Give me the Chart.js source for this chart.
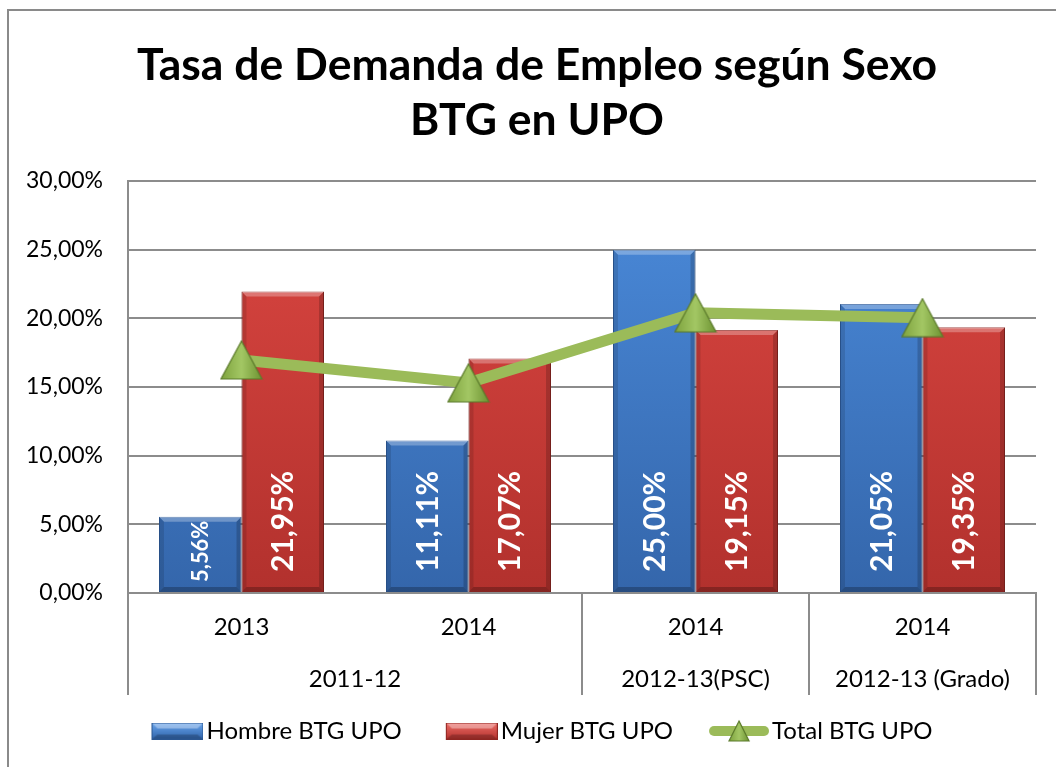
<!DOCTYPE html>
<html lang="es">
<head>
<meta charset="UTF-8" />
<title>Tasa de Demanda de Empleo según Sexo</title>
<style>
  html, body { margin: 0; padding: 0; background: #fff; overflow: hidden; }
</style>
</head>
<body>
<canvas id="chart" width="1056" height="767"></canvas>
<script src="https://cdn.jsdelivr.net/npm/chart.js@4.4.1/dist/chart.umd.min.js"></script>
<script>
  // Data (values in %)
  const years = ["2013", "2014", "2014", "2014"];
  const groupLabels = ["2011-12", "2012-13(PSC)", "2012-13 (Grado)"];
  const groupSizes = [2, 1, 1];
  const hombre = [5.56, 11.11, 25.0, 21.05];
  const mujer = [21.95, 17.07, 19.15, 19.35];
  const total = [16.97, 15.3, 20.4, 20.05];
  const titleLines = ["Tasa de Demanda de Empleo según Sexo", "BTG en UPO"];

  const FONT = "Lato, 'Liberation Sans', sans-serif";
  const GRID = "#8c8c8c";
  const ICON_W = 99; // legend image width, visible part sits at its right end

  const pct = (v) => v.toFixed(2).replace(".", ",") + "%";

  function makeCanvas(w, h) {
    const c = document.createElement("canvas");
    c.width = w;
    c.height = h;
    return c;
  }

  // Small bevelled bar used as legend marker
  function barIcon(light, dark, edge) {
    const c = makeCanvas(ICON_W, 17);
    const g = c.getContext("2d");
    const x0 = ICON_W - 52;
    const grad = g.createLinearGradient(0, 0, 0, 17);
    grad.addColorStop(0, light);
    grad.addColorStop(1, dark);
    g.fillStyle = grad;
    g.fillRect(x0, 0, 52, 17);
    g.fillStyle = "rgba(255,255,255,0.35)";
    g.beginPath();
    g.moveTo(x0, 0); g.lineTo(x0 + 52, 0); g.lineTo(x0 + 46, 6); g.lineTo(x0 + 6, 6);
    g.fill();
    g.fillStyle = "rgba(0,0,0,0.2)";
    g.beginPath();
    g.moveTo(x0, 17); g.lineTo(x0 + 52, 17); g.lineTo(x0 + 46, 12); g.lineTo(x0 + 6, 12);
    g.fill();
    g.strokeStyle = edge;
    g.lineWidth = 1;
    g.strokeRect(x0 + 0.5, 0.5, 51, 16);
    return c;
  }

  function drawTriangle(g, cx, cy, w, h) {
    const grad = g.createLinearGradient(cx - w / 2, 0, cx + w / 2, 0);
    grad.addColorStop(0, "#7ea33e");
    grad.addColorStop(0.5, "#a3c764");
    grad.addColorStop(1, "#6d9332");
    g.fillStyle = grad;
    g.strokeStyle = "#5b7a2b";
    g.lineWidth = 1.2;
    g.beginPath();
    g.moveTo(cx, cy - h / 2);
    g.lineTo(cx + w / 2, cy + h / 2);
    g.lineTo(cx - w / 2, cy + h / 2);
    g.closePath();
    g.fill();
    g.stroke();
  }

  function triangleIcon() {
    const c = makeCanvas(44, 40);
    drawTriangle(c.getContext("2d"), 22, 20, 41, 38);
    return c;
  }

  function lineIcon() {
    const c = makeCanvas(ICON_W, 24);
    const g = c.getContext("2d");
    const x0 = ICON_W - 60;
    g.strokeStyle = "#9bbb59";
    g.lineWidth = 10;
    g.lineCap = "round";
    g.beginPath();
    g.moveTo(x0 + 5, 12);
    g.lineTo(x0 + 55, 12);
    g.stroke();
    drawTriangle(g, x0 + 30, 12, 20, 20);
    return c;
  }

  const icons = [
    barIcon("#6aa6ee", "#2f62a8", "#2b5690"),
    barIcon("#ee6f69", "#b3302c", "#8e2622"),
    lineIcon(),
  ];
  const pointImg = triangleIcon();

  function vGrad(chart, top, bottom) {
    const a = chart.chartArea;
    if (!a) return bottom;
    const g = chart.ctx.createLinearGradient(0, a.top, 0, a.bottom);
    g.addColorStop(0, top);
    g.addColorStop(1, bottom);
    return g;
  }

  const decor = {
    id: "decor",
    beforeDraw(chart) {
      const ctx = chart.ctx;
      ctx.save();
      // outer frame (left and top edges are visible in the picture)
      ctx.strokeStyle = "#8a8a8a";
      ctx.lineWidth = 2;
      ctx.beginPath();
      ctx.moveTo(8, 767);
      ctx.lineTo(8, 10);
      ctx.lineTo(1056, 10);
      ctx.stroke();
      // title, two bold lines
      ctx.fillStyle = "#000";
      ctx.font = `bold 44.5px ${FONT}`;
      ctx.textAlign = "center";
      ctx.textBaseline = "middle";
      titleLines.forEach((t, i) => ctx.fillText(t, 537, 66 + i * 55));
      ctx.restore();
    },
    afterDatasetDraw(chart, args) {
      if (args.meta.type !== "bar") return;
      const ctx = chart.ctx;
      const values = chart.data.datasets[args.index].data;
      ctx.save();
      args.meta.data.forEach((bar, i) => {
        const l = bar.x - bar.width / 2;
        const r = bar.x + bar.width / 2;
        const t = bar.y;
        const b = bar.base;
        const e = 5;
        ctx.fillStyle = "rgba(255,255,255,0.28)";
        ctx.beginPath();
        ctx.moveTo(l, t); ctx.lineTo(r, t); ctx.lineTo(r - e, t + e); ctx.lineTo(l + e, t + e);
        ctx.fill();
        ctx.fillStyle = "rgba(0,0,0,0.12)";
        ctx.beginPath();
        ctx.moveTo(l, t); ctx.lineTo(l + e, t + e); ctx.lineTo(l + e, b - e); ctx.lineTo(l, b);
        ctx.fill();
        ctx.fillStyle = "rgba(0,0,0,0.18)";
        ctx.beginPath();
        ctx.moveTo(r, t); ctx.lineTo(r - e, t + e); ctx.lineTo(r - e, b - e); ctx.lineTo(r, b);
        ctx.fill();
        ctx.fillStyle = "rgba(0,0,0,0.25)";
        ctx.beginPath();
        ctx.moveTo(l, b); ctx.lineTo(r, b); ctx.lineTo(r - e, b - e); ctx.lineTo(l + e, b - e);
        ctx.fill();

        // value label, white, rotated, anchored near the base
        const text = pct(values[i]);
        let size = 30;
        ctx.font = `bold ${size}px ${FONT}`;
        let w = ctx.measureText(text).width;
        const h = b - t;
        let start = 20;
        if (w > h - 14) {
          size = size * (h - 14) / w;
          ctx.font = `bold ${size}px ${FONT}`;
          w = ctx.measureText(text).width;
          start = (h - w) / 2 + 3;
        }
        ctx.save();
        ctx.translate(bar.x, b - start);
        ctx.rotate(-Math.PI / 2);
        ctx.fillStyle = "#fff";
        ctx.textAlign = "left";
        ctx.textBaseline = "middle";
        ctx.fillText(text, 0, 1);
        ctx.restore();
      });
      ctx.restore();
    },
    afterDraw(chart) {
      const ctx = chart.ctx;
      const area = chart.chartArea;
      const x = chart.scales.x;
      const depth = 102;
      ctx.save();
      ctx.strokeStyle = GRID;
      ctx.lineWidth = 2;
      const cuts = [area.left];
      let idx = 0;
      const centers = [];
      groupSizes.forEach((n) => {
        const first = x.getPixelForValue(idx);
        const last = x.getPixelForValue(idx + n - 1);
        centers.push((first + last) / 2);
        idx += n;
        if (idx < years.length) {
          cuts.push((x.getPixelForValue(idx - 1) + x.getPixelForValue(idx)) / 2);
        }
      });
      cuts.push(area.right);
      ctx.beginPath();
      cuts.forEach((cx) => {
        ctx.moveTo(cx, area.bottom);
        ctx.lineTo(cx, area.bottom + depth);
      });
      ctx.stroke();
      ctx.fillStyle = "#000";
      ctx.font = `24px ${FONT}`;
      ctx.textAlign = "center";
      ctx.textBaseline = "middle";
      centers.forEach((cx, i) => ctx.fillText(groupLabels[i], cx, area.bottom + 86));
      ctx.restore();
    },
  };

  new Chart(document.getElementById("chart"), {
    data: {
      labels: years,
      datasets: [
        {
          type: "bar",
          label: "Hombre BTG UPO",
          data: hombre,
          order: 1,
          backgroundColor: (c) => vGrad(c.chart, "#4b8bdb", "#3466ab"),
          borderColor: "#2d5b9a",
          borderWidth: 1,
        },
        {
          type: "bar",
          label: "Mujer BTG UPO",
          data: mujer,
          order: 1,
          backgroundColor: (c) => vGrad(c.chart, "#dc4742", "#b2312d"),
          borderColor: "#8e2622",
          borderWidth: 1,
        },
        {
          type: "line",
          label: "Total BTG UPO",
          data: total,
          order: 0,
          borderColor: "#9bbb59",
          borderWidth: 11,
          pointStyle: pointImg,
          pointRadius: 20,
          tension: 0,
        },
      ],
    },
    options: {
      responsive: false,
      animation: false,
      layout: { autoPadding: false, padding: { left: 10, right: 20, top: 181, bottom: 14 } },
      datasets: {
        bar: { categoryPercentage: 0.727, barPercentage: 1 },
      },
      scales: {
        x: {
          grid: { display: false, drawTicks: false },
          border: { display: true, color: GRID, width: 2 },
          ticks: { color: "#000", font: { size: 24, family: FONT }, padding: 20 },
          afterFit(scale) {
            scale.height = 120;
            scale.paddingLeft = 0;
            scale.paddingRight = 0;
          },
        },
        y: {
          min: 0,
          max: 30,
          grid: { color: GRID, lineWidth: 2, drawTicks: false },
          border: { display: true, color: GRID, width: 2 },
          ticks: {
            stepSize: 5,
            color: "#000",
            font: { size: 23, family: FONT },
            padding: 25,
            callback: (v) => pct(v),
          },
          afterFit(scale) { scale.width = 118; },
        },
      },
      plugins: {
        title: { display: false },
        legend: {
          position: "bottom",
          labels: {
            color: "#000",
            font: { size: 24, family: FONT },
            usePointStyle: true,
            pointStyleWidth: 81,
            padding: 6,
            generateLabels(chart) {
              return chart.data.datasets.map((d, i) => ({
                text: d.label,
                pointStyle: icons[i],
                datasetIndex: i,
                hidden: false,
                lineWidth: 0,
                fontColor: "#000",
              }));
            },
          },
        },
        tooltip: { enabled: false },
      },
    },
    plugins: [decor],
  });
</script>
</body>
</html>
